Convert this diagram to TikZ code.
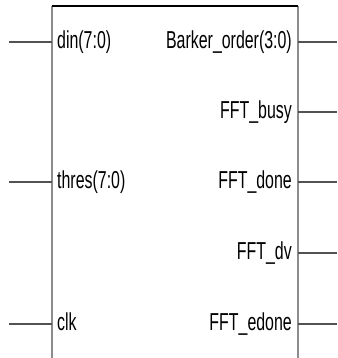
\documentclass[tikz,border=0pt]{standalone}
\usepackage{fontspec}
\setmainfont[FakeStretch=0.65]{Liberation Sans}
\begin{document}
\begin{tikzpicture}[x=1pt,y=-1pt,
  pinline/.style={draw=black!68,line width=1.3pt},
  edgeline/.style={draw=black!45,line width=1.6pt},
  lbl/.style={inner sep=0pt,font=\fontsize{24.5}{24.5}\selectfont,text=black}]
\useasboundingbox (0,0) rectangle (337,358);
% box corners
\coordinate (tl) at (52,6);
\coordinate (tr) at (298,6);
\coordinate (bl) at (52,358);
\coordinate (br) at (298,358);
\draw[edgeline] (tl) -- (bl);
\draw[edgeline] (tr) -- (br);
\draw[black,line width=1.5pt] (tl) -- (tr);
% left pins
\foreach \n/\y/\t in {din/42/din(7:0), thres/182/thres(7:0), clk/324/clk}{
  \coordinate (\n e) at (9,\y);
  \coordinate (\n p) at (52,\y);
  \draw[pinline] (\n e) -- (\n p);
  \node[lbl,anchor=base west] (\n) at (57,\y+6.5) {\t};
}
% right pins
\foreach \n/\y/\t in {bo/42/Barker\_order(3:0), busy/112/FFT\_busy, done/182/FFT\_done, dv/253/FFT\_dv, edone/324/FFT\_edone}{
  \coordinate (\n e) at (337,\y);
  \coordinate (\n p) at (298,\y);
  \draw[pinline] (\n p) -- (\n e);
  \node[lbl,anchor=base east] (\n) at (292,\y+6.5) {\t};
}
\end{tikzpicture}
\end{document}
